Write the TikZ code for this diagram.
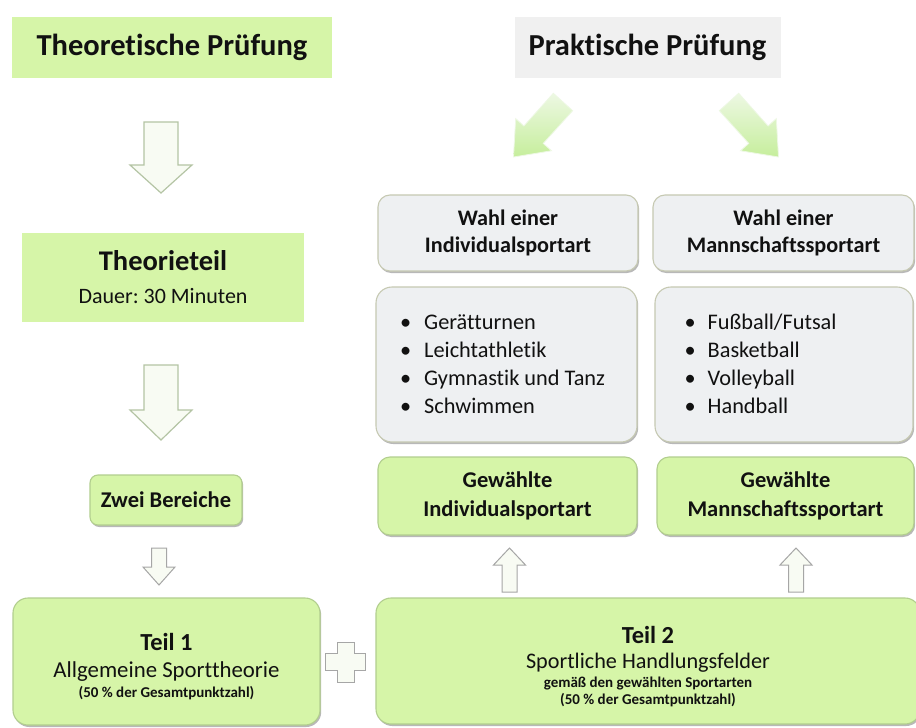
\documentclass[tikz,border=0pt]{standalone}
\usepackage{fontspec}
\setmainfont{Carlito}[Ligatures=NoCommon]
\usetikzlibrary{shadows}
\frenchspacing
\definecolor{lgreen}{HTML}{D6F5A8}
\definecolor{titlegray}{HTML}{F0F0F0}
\definecolor{boxgray}{HTML}{EEF0F2}
\definecolor{greenedge}{HTML}{B2CE8E}
\definecolor{grayedge}{HTML}{C6C9B2}
\definecolor{bigarrowedge}{HTML}{B4C4A4}
\definecolor{smallarrowedge}{HTML}{A6A6A6}
\definecolor{arrowfill}{HTML}{F8FBF3}
\definecolor{diaglight}{HTML}{EDF8E3}
\definecolor{diagdark}{HTML}{C6EE9C}
\definecolor{textcol}{HTML}{111111}
\newcommand{\fs}[2]{\fontsize{#1}{#2}\selectfont}
\tikzset{
  plain/.style={rectangle, inner sep=0pt, align=center, text=textcol},
  titlebox/.style={plain, font=\fs{30.5}{33}\bfseries, minimum height=61pt},
  roundbox/.style={plain, rounded corners=12pt, line width=1.1pt,
     drop shadow={shadow xshift=1.2pt, shadow yshift=-2pt, fill=black, opacity=0.28}},
  greenbox/.style={roundbox, fill=lgreen, draw=greenedge},
  graybox/.style={roundbox, fill=boxgray, draw=grayedge},
  listtext/.style={plain, align=left, anchor=west, font=\fs{22.3}{28}},
  bigarrow/.style={draw=bigarrowedge, line width=1.2pt, fill=arrowfill, line join=miter},
  smallarrow/.style={draw=smallarrowedge, line width=1pt, fill=arrowfill, line join=miter},
  diagarrow/.style={draw=diaglight, line width=0.8pt, top color=diaglight, bottom color=diagdark},
  pics/blockarrow/.style n args={5}{code={
    \path[#5] (-#3/2,0) -- (-#3/2,#1-#2) -- (-#4/2,#1-#2) -- (0,#1)
      -- (#4/2,#1-#2) -- (#3/2,#1-#2) -- (#3/2,0) -- cycle;}},
  pics/plussign/.style n args={3}{code={
    \path[#3] (-#2/2,-#1) -- (#2/2,-#1) -- (#2/2,-#2/2) -- (#1,-#2/2) -- (#1,#2/2)
      -- (#2/2,#2/2) -- (#2/2,#1) -- (-#2/2,#1) -- (-#2/2,#2/2) -- (-#1,#2/2)
      -- (-#1,-#2/2) -- (-#2/2,-#2/2) -- cycle;}}
}
\begin{document}
\begin{tikzpicture}[x=1pt,y=-1pt]
\fill[white] (0,0) rectangle (916,728);
\useasboundingbox (0,0) rectangle (916,728);

% titles
\node[titlebox, fill=lgreen, minimum width=320pt] (tp) at (172,47.5) {Theoretische Prüfung};
\node[titlebox, fill=titlegray, minimum width=266pt, font=\fs{30.5}{33}\bfseries] (pp) at (647.5,47.5) {Praktische Prüfung};

% left column
\node[plain, fill=lgreen, minimum width=282pt, minimum height=89pt, font=\fs{22}{33}] (theo) at (163,277.5)
  {{\fs{28.5}{33}\bfseries Theorieteil}\\Dauer: 30 Minuten};
\node[greenbox, rounded corners=8pt, minimum width=152pt, minimum height=50pt, font=\fs{22.5}{26}\bfseries] (zwei) at (166,500) {Zwei Bereiche};
\node[greenbox, rounded corners=15pt, minimum width=307pt, minimum height=127pt, font=\fs{22.8}{27}] (teil1) at (166.5,661.5)
  {\rule{0pt}{27.6pt}{\fs{24.5}{27}\bfseries Teil 1}\\Allgemeine Sporttheorie\\[-7pt]{\fs{15}{17}\bfseries (50 \% der Gesamtpunktzahl)}};

% right column
\node[graybox, minimum width=260pt, minimum height=76pt, font=\fs{22.2}{27}\bfseries] (wahl1) at (508,233) {Wahl einer\\Individualsportart};
\node[graybox, minimum width=261pt, minimum height=76pt, font=\fs{22.2}{27}\bfseries] (wahl2) at (783.5,233) {Wahl einer\\Mannschaftssportart};
\node[graybox, rounded corners=16pt, minimum width=261pt, minimum height=155pt] (list1) at (506.5,364.5) {};
\node[graybox, rounded corners=16pt, minimum width=258pt, minimum height=155pt] (list2) at (784,364.5) {};
\node[listtext] (list1t) at (400,364) {\makebox[24pt][l]{•}Gerätturnen\\\makebox[24pt][l]{•}Leichtathletik\\\makebox[24pt][l]{•}Gymnastik und Tanz\\\makebox[24pt][l]{•}Schwimmen};
\node[listtext] (list2t) at (684.5,364) {\makebox[23pt][l]{•}Fußball/Futsal\\\makebox[23pt][l]{•}Basketball\\\makebox[23pt][l]{•}Volleyball\\\makebox[23pt][l]{•}Handball};
\node[greenbox, minimum width=259pt, minimum height=78pt, font=\fs{22.5}{29}\bfseries] (gew1) at (507.5,496) {Gewählte\\Individualsportart};
\node[greenbox, minimum width=257pt, minimum height=78pt, font=\fs{22.5}{29}\bfseries] (gew2) at (785.5,496) {Gewählte\\Mannschaftssportart};
\node[greenbox, rounded corners=15pt, minimum width=544pt, minimum height=126pt, font=\fs{22.2}{25}] (teil2) at (648,661)
  {\rule{0pt}{28.6pt}{\fs{24.5}{25}\bfseries Teil 2}\\Sportliche Handlungsfelder\\[-6pt]{\fs{15}{17}\bfseries gemäß den gewählten Sportarten}\\[-8pt]{\fs{15}{17}\bfseries (50 \% der Gesamtpunktzahl)}};

% arrows
\pic (arrA) at (161,122) {blockarrow={71}{28}{34}{62}{bigarrow}};
\pic (arrB) at (161,365) {blockarrow={75}{30}{34}{62}{bigarrow}};
\pic (arrC) at (159,548) {blockarrow={37}{18}{15}{32}{smallarrow}};
\pic[rotate=180] (arrD) at (509.5,592) {blockarrow={44}{17}{15}{32}{smallarrow}};
\pic[rotate=180] (arrE) at (796,592) {blockarrow={44}{17}{15}{32}{smallarrow}};
\pic[rotate=-42] (arrF) at (563,102) {blockarrow={74}{30}{26}{48}{diagarrow}};
\pic[rotate=42] (arrG) at (729,102) {blockarrow={74}{30}{26}{48}{diagarrow}};
\pic (plus) at (345.5,662) {plussign={20}{17}{smallarrow}};
\end{tikzpicture}
\end{document}
